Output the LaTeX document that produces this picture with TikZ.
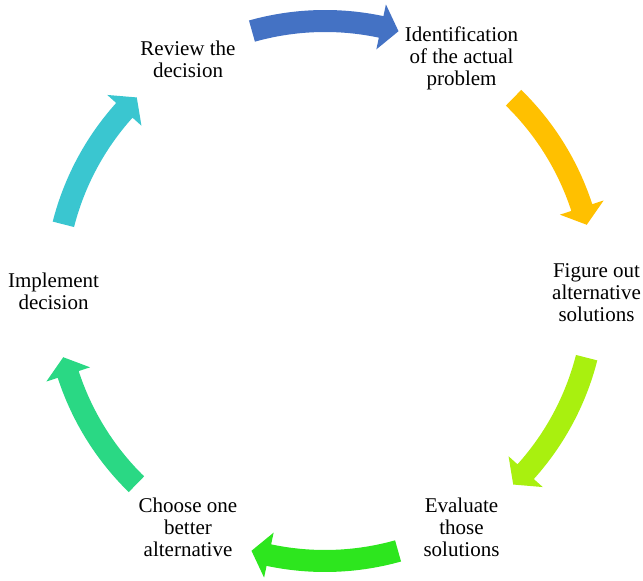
\documentclass[tikz,border=0pt]{standalone}
\usepackage{fontspec}
\setmainfont{Liberation Serif}
\definecolor{pfeilblau}{HTML}{4472C4}
\definecolor{pfeilgelb}{HTML}{FFC000}
\definecolor{pfeillime}{HTML}{A9F00F}
\definecolor{pfeilgruen}{HTML}{2DE61E}
\definecolor{pfeilmint}{HTML}{2AD884}
\definecolor{pfeiltuerkis}{HTML}{3AC6D0}

\begin{document}
\begin{tikzpicture}[x=1pt,y=1pt,font=\fontsize{21}{22}\selectfont,
  lbl/.style={align=center,inner sep=0pt}]
\useasboundingbox (0,0) rectangle (643,581);
% Kreispfeile
\begin{scope}[shift={(325,290)}]
\foreach \c/\col in {90/pfeilblau,30/pfeilgelb,-30/pfeillime,-90/pfeilgruen,-150/pfeilmint,150/pfeiltuerkis}{
  \fill[\col] ({\c+15.7}:281) arc[start angle=\c+15.7,end angle=\c-12,radius=281]
    -- ({\c-12}:293) -- ({\c-15.8}:270) -- ({\c-12}:247) -- ({\c-12}:259)
    arc[start angle=\c-12,end angle=\c+15.7,radius=259] -- cycle;
}
\end{scope}
% Schritte
\node[lbl] (ident) at (461.5,522.5) {Identification\\of the actual\\problem};
\node[lbl] (figure) at (596.5,288) {Figure out\\alternative\\solutions};
\node[lbl] (evaluate) at (461.5,53.5) {Evaluate\\those\\solutions};
\node[lbl] (choose) at (188,53.5) {Choose one\\better\\alternative};
\node[lbl] (implement) at (53.5,290) {Implement\\decision};
\node[lbl] (review) at (188,521.5) {Review the\\decision};
\end{tikzpicture}
\end{document}
